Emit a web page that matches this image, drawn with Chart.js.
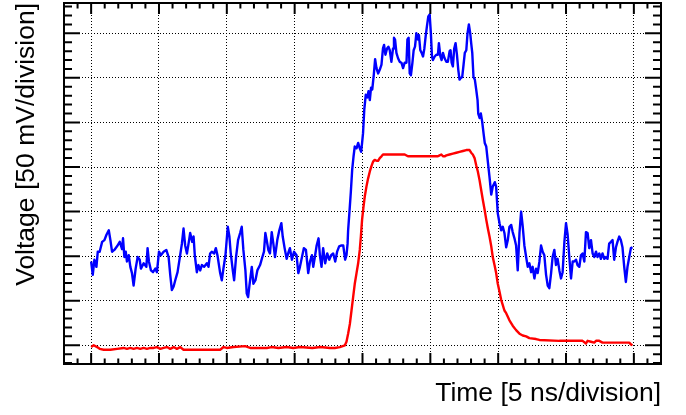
<!DOCTYPE html>
<html>
<head>
<meta charset="utf-8">
<title>Pulse</title>
<script src="https://cdn.jsdelivr.net/npm/chart.js@4.4.1/dist/chart.umd.min.js"></script>
<style>
  html, body { margin: 0; padding: 0; background: #fff; }
  #wrap { width: 686px; height: 415px; position: relative; }
</style>
</head>
<body>
<div id="wrap"><canvas id="scope"></canvas></div>
<script>
// time in ns, voltage in mV
const timeGrid = [0, 5, 10, 15, 20, 25, 30, 35, 40];
const voltGrid = [0, 50, 100, 150, 200, 250, 300, 350];
const timeRange = [-2, 42];
const voltRange = [-21, 384];

// noisy channel (blue)
const blueTrace = [
  [0.00,94],[0.12,79],[0.24,96],[0.39,88],[0.49,105],[0.63,105],[0.81,116],[0.98,118],[1.13,124],[1.30,129],
  [1.42,118],[1.54,105],[1.71,107],[1.91,111],[2.11,116],[2.28,108],[2.35,120],[2.45,99],[2.55,105],[2.64,94],
  [2.77,101],[2.89,88],[3.01,81],[3.13,67],[3.28,86],[3.43,99],[3.58,96],[3.67,86],[3.87,92],[4.07,88],
  [4.16,109],[4.26,94],[4.41,84],[4.56,82],[4.73,86],[4.85,82],[5.00,105],[5.14,101],[5.34,105],[5.54,107],
  [5.71,99],[5.83,79],[5.95,62],[6.08,66],[6.20,73],[6.37,82],[6.52,97],[6.69,114],[6.81,131],[6.93,112],
  [7.06,103],[7.18,114],[7.30,126],[7.45,116],[7.55,122],[7.64,101],[7.79,82],[7.91,90],[8.04,84],[8.16,90],
  [8.33,88],[8.53,92],[8.65,88],[8.77,103],[8.89,105],[9.07,103],[9.19,109],[9.31,101],[9.51,81],[9.63,73],
  [9.75,86],[9.90,101],[10.07,133],[10.19,122],[10.29,103],[10.44,84],[10.54,73],[10.68,99],[10.83,118],[10.98,126],
  [11.10,133],[11.22,107],[11.37,84],[11.47,58],[11.57,54],[11.66,66],[11.84,88],[11.96,69],[12.11,73],[12.25,84],
  [12.45,90],[12.62,99],[12.74,105],[12.84,126],[12.94,118],[13.06,107],[13.18,103],[13.31,127],[13.43,114],[13.55,99],
  [13.72,118],[13.87,129],[14.02,137],[14.12,122],[14.26,109],[14.41,97],[14.56,105],[14.65,109],[14.80,96],[14.95,105],
  [15.14,101],[15.27,81],[15.39,88],[15.54,99],[15.68,109],[15.83,107],[16.00,81],[16.13,94],[16.27,101],[16.37,88],
  [16.49,99],[16.62,112],[16.76,120],[16.86,101],[16.98,88],[17.10,109],[17.25,92],[17.40,103],[17.55,96],[17.69,101],
  [17.84,103],[17.99,94],[18.13,105],[18.28,111],[18.45,112],[18.58,112],[18.72,96],[18.82,101],
  [18.90,114],[18.94,129],[19.04,150],[19.14,172],[19.24,197],[19.34,212],[19.43,223],[19.56,221],[19.68,227],[19.80,221],
  [19.90,217],[19.97,227],[20.04,238],[20.13,264],[20.24,281],[20.35,278],[20.44,285],[20.54,275],[20.63,289],[20.72,287],
  [20.83,303],[20.93,321],[21.03,311],[21.15,305],[21.27,309],[21.40,315],[21.51,333],[21.59,337],[21.69,326],[21.81,333],
  [21.91,335],[22.01,331],[22.13,318],[22.25,333],[22.32,345],[22.40,343],[22.50,328],[22.62,322],[22.74,318],[22.87,317],
  [22.99,311],[23.11,317],[23.24,317],[23.31,343],[23.40,345],[23.48,305],[23.57,303],[23.68,317],[23.77,331],[23.87,335],
  [23.97,350],[24.09,343],[24.16,348],[24.26,331],[24.36,328],[24.46,324],[24.56,333],[24.65,346],[24.75,358],[24.85,369],
  [24.95,371],[25.04,350],[25.12,324],[25.19,320],[25.32,324],[25.44,326],[25.56,326],[25.63,339],[25.74,324],[25.83,320],
  [25.93,328],[26.05,322],[26.18,318],[26.29,318],[26.42,330],[26.49,331],[26.57,317],[26.66,313],[26.76,333],[26.86,339],
  [26.96,326],[27.06,309],[27.15,298],[27.25,300],[27.35,301],[27.45,315],[27.54,328],[27.65,331],[27.74,350],[27.84,360],
  [27.94,350],[28.01,339],[28.09,328],[28.18,301],[28.28,298],[28.38,287],[28.48,275],[28.53,260],[28.63,255],[28.72,260],
  [28.82,251],[28.92,238],[29.01,227],[29.12,223],[29.21,210],[29.36,189],[29.49,169],[29.60,178],[29.75,183],[29.85,178],
  [29.97,148],[30.10,137],[30.22,129],[30.34,133],[30.46,126],[30.59,110],[30.71,118],[30.83,133],[30.96,135],[31.07,127],
  [31.20,120],[31.32,112],[31.44,84],[31.57,126],[31.69,150],[31.81,133],[31.93,112],[32.06,99],[32.18,88],[32.30,92],
  [32.43,82],[32.54,88],[32.67,75],[32.79,86],[32.91,81],[33.04,94],[33.16,112],[33.28,105],[33.40,101],[33.53,79],
  [33.65,67],[33.77,64],[33.90,81],[34.01,99],[34.14,107],[34.26,90],[34.38,97],[34.51,84],[34.63,75],[34.75,82],
  [34.88,116],[35.00,137],[35.12,124],[35.24,99],[35.37,75],[35.49,94],[35.61,94],[35.74,96],[35.85,90],[35.98,88],
  [36.10,101],[36.22,103],[36.35,94],[36.47,127],[36.59,126],[36.71,109],[36.84,118],[36.96,103],[37.08,99],[37.21,105],
  [37.32,99],[37.45,103],[37.57,97],[37.69,103],[37.82,97],[37.94,99],[38.06,97],[38.18,114],[38.31,116],[38.43,118],
  [38.55,96],[38.68,110],[38.79,116],[38.92,122],[39.04,118],[39.16,110],[39.29,88],[39.41,71],[39.53,88],[39.66,99],
  [39.78,109],[39.90,110]
];

// clean channel (red)
const redTrace = [
  [0.00,-2],[0.19,0],[0.44,-2],[0.63,-4],[0.93,-5],[1.42,-5],[1.91,-4],[2.40,-3],[2.64,-4],[2.89,-3],
  [3.13,-4],[3.38,-3],[3.62,-4],[3.87,-3],[4.11,-4],[4.36,-3],[4.61,-3],[4.85,-2],[5.10,-4],[5.34,-3],
  [5.59,-2],[5.83,-4],[6.08,-2],[6.32,-4],[6.57,-2],[6.81,-5],[8.00,-5],[9.51,-5],[9.76,-2],[10.00,-3],
  [10.50,-2],[11.35,-1],[11.72,-3],[12.95,-3],[13.30,-2],[13.80,-3],[14.40,-2],[14.90,-3],[15.40,-2],[16.30,-3],
  [16.90,-2],[17.60,-3],[17.96,-3],[18.33,-2],[18.70,0],[18.82,4],[18.94,13],[19.07,24],[19.19,39],[19.31,54],
  [19.43,69],[19.56,81],[19.68,92],[19.80,107],[19.88,122],[19.97,141],[20.07,155],[20.17,167],[20.29,178],[20.41,187],
  [20.54,195],[20.66,201],[20.78,206],[20.90,208],[21.03,207],[21.15,207],[21.27,210],[21.40,212],[21.51,214],[23.11,214],
  [23.35,212],[25.56,212],[25.68,213],[25.81,214],[25.93,212],[26.05,212],[26.18,213],[26.42,214],[26.66,215],[26.91,216],
  [27.15,217],[27.40,218],[27.65,219],[27.89,219],[28.01,216],[28.13,214],[28.26,210],[28.38,202],[28.50,195],[28.63,185],
  [28.75,174],[28.87,163],[29.00,152],[29.12,141],[29.24,131],[29.36,122],[29.49,111],[29.60,99],[29.73,90],[29.85,81],
  [29.97,69],[30.10,60],[30.22,51],[30.34,45],[30.46,39],[30.59,36],[30.71,32],[30.83,28],[31.07,22],[31.32,17],
  [31.57,13],[31.81,11],[32.06,10],[32.30,8],[32.79,7],[33.04,6],[34.51,5],[36.22,5],[36.47,2],[36.59,5],
  [36.84,4],[37.08,3],[37.21,5],[37.45,5],[37.69,3],[39.66,3],[39.78,1],[39.90,0]
];

const toPoints = trace => trace.map(([t, v]) => ({ x: t, y: v }));

// frame with major/minor ticks on all four sides
const frameTicks = {
  id: 'frameTicks',
  afterDatasetsDraw(chart) {
    const { ctx, chartArea: a, scales: { x, y } } = chart;
    ctx.save();
    ctx.strokeStyle = '#000';
    ctx.lineWidth = 2;
    ctx.beginPath();
    for (let t = Math.ceil(x.min); t <= x.max; t += 1) {
      const px = x.getPixelForValue(t);
      const len = timeGrid.includes(t) ? 11 : 5.5;
      ctx.moveTo(px, a.bottom); ctx.lineTo(px, a.bottom - len);
      ctx.moveTo(px, a.top); ctx.lineTo(px, a.top + len);
    }
    for (let v = Math.ceil(y.min / 10) * 10; v <= y.max; v += 10) {
      const py = y.getPixelForValue(v);
      const len = voltGrid.includes(v) ? 16 : 8;
      ctx.moveTo(a.left, py); ctx.lineTo(a.left + len, py);
      ctx.moveTo(a.right, py); ctx.lineTo(a.right - len, py);
    }
    ctx.stroke();
    ctx.strokeRect(a.left, a.top, a.right - a.left, a.bottom - a.top);
    ctx.restore();
  }
};

const titleFont = { family: '"Liberation Sans", Arial, Helvetica, sans-serif', size: 26.5 };

const traceStyle = { borderWidth: 2.4, borderJoinStyle: 'round', pointRadius: 0, tension: 0, fill: false };

new Chart(document.getElementById('scope'), {
  type: 'line',
  data: {
    datasets: [
      { label: 'signal', data: toPoints(blueTrace), borderColor: '#0000ff', ...traceStyle },
      { label: 'reference', data: toPoints(redTrace), borderColor: '#ff0000', ...traceStyle }
    ]
  },
  options: {
    responsive: true,
    maintainAspectRatio: false,
    animation: false,
    layout: { padding: { top: 3, right: 25, bottom: 0, left: 0 } },
    plugins: { legend: { display: false }, tooltip: { enabled: false } },
    scales: {
      x: {
        type: 'linear',
        min: timeRange[0],
        max: timeRange[1],
        afterBuildTicks: s => { s.ticks = timeGrid.map(v => ({ value: v })); },
        afterFit: s => { s.height = 51; },
        ticks: { display: false },
        grid: { color: '#000', lineWidth: 1, drawTicks: false },
        border: { display: false, dash: [1, 2] },
        title: { display: true, text: 'Time [5 ns/division]', align: 'end', color: '#000',
                 font: titleFont, padding: { top: 0, bottom: 5 } }
      },
      y: {
        type: 'linear',
        min: voltRange[0],
        max: voltRange[1],
        afterBuildTicks: s => { s.ticks = voltGrid.map(v => ({ value: v })); },
        afterFit: s => { s.width = 64; },
        ticks: { display: false },
        grid: { color: '#000', lineWidth: 1, drawTicks: false },
        border: { display: false, dash: [1, 2] },
        title: { display: true, text: 'Voltage [50 mV/division]', align: 'end', color: '#000',
                 font: titleFont, padding: { top: 11, bottom: 0 } }
      }
    }
  },
  plugins: [frameTicks]
});
</script>
</body>
</html>
